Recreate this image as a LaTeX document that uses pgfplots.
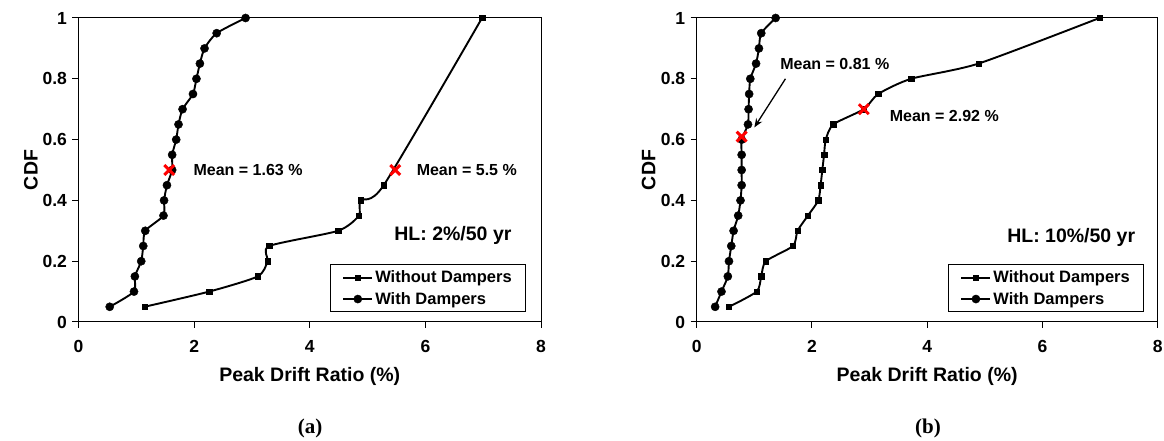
\documentclass[border=0pt]{standalone}
\usepackage{fontspec}
\setmainfont{Liberation Sans}
\newfontfamily\capfont{Liberation Serif}
\usepackage{pgfplots}
\pgfplotsset{compat=1.18}
\usetikzlibrary{arrows.meta}

\pgfplotsset{
  cdfaxis/.style={
    scale only axis, height=304pt,
    xmin=0, xmax=8, ymin=0, ymax=1,
    xtick={0,2,4,6,8}, ytick={0,0.2,0.4,0.6,0.8,1},
    tick align=outside, tick pos=left, major tick length=6pt,
    axis line style={line width=1pt},
    every tick/.style={black, line width=1pt},
    /pgf/number format/assume math mode=true,
    ticklabel style={font=\fontsize{17.5}{20}\selectfont\bfseries},
    xticklabel style={yshift=-9pt},
    yticklabel style={xshift=-2pt},
    label style={font=\fontsize{19.5}{22}\selectfont\bfseries},
    xlabel={Peak Drift Ratio (\%)},
    ylabel={CDF},
    xlabel style={at={(axis description cs:0.5,0)}, anchor=base, yshift=-60pt},
    legend style={draw=black, line width=1pt, anchor=south east,
      font=\fontsize{16.5}{19}\selectfont\bfseries,
      inner xsep=12pt, inner ysep=4pt, row sep=4pt},
    legend cell align=left,
    legend image code/.code={
      \draw[mark repeat=2, mark phase=2] plot coordinates {(0pt,0pt) (14.5pt,0pt) (29pt,0pt)};},
  },
  nodamp/.style={black, line width=1.9pt, mark=square*, mark size=2.7pt,
    mark options={line width=0.4pt}, smooth, tension=0.4},
  damp/.style={black, line width=1.9pt, mark=*, mark size=4.1pt,
    mark options={line width=0.4pt}, smooth, tension=0.4},
  meanx/.style={only marks, red, mark=x, mark size=7pt, line width=3pt, forget plot},
}
\tikzset{
  note/.style={font=\fontsize{16}{18}\selectfont\bfseries},
  hl/.style={font=\fontsize{19.5}{22}\selectfont\bfseries, anchor=east},
}

\begin{document}
\begin{tikzpicture}[x=1pt, y=1pt]
\useasboundingbox (0,0) rectangle (1164,441);

% (a) HL 2%/50 yr
\begin{axis}[cdfaxis, width=462.5pt, at={(78.5pt,119pt)}, anchor=south west,
  ylabel style={at={(axis description cs:-0.103,0.5)}, anchor=center},
  legend style={at={(rel axis cs:0.968,0.032)}}]
\addplot[nodamp] coordinates {
  (1.14,0.05) (2.26,0.10) (3.10,0.15) (3.27,0.20) (3.30,0.25)
  (4.49,0.30) (4.85,0.35) (4.88,0.40) (5.28,0.45) (6.98,1.00)};
\addlegendentry{Without Dampers}
\addplot[damp] coordinates {
  (0.54,0.05) (0.96,0.10) (0.975,0.15) (1.085,0.20) (1.12,0.25)
  (1.155,0.30) (1.47,0.35) (1.48,0.40) (1.53,0.45) (1.62,0.50)
  (1.62,0.55) (1.69,0.60) (1.73,0.65) (1.80,0.70) (1.98,0.75)
  (2.04,0.80) (2.10,0.85) (2.18,0.90) (2.39,0.95) (2.89,1.00)};
\addlegendentry{With Dampers}
\addplot[meanx] coordinates {(1.57,0.50) (5.48,0.50)};
\node[note, anchor=west] at (axis cs:1.93,0.50) {Mean = 1.63 \%};
\node[note, anchor=west] at (axis cs:5.79,0.50) {Mean = 5.5 \%};
\node[hl] at (axis cs:7.55,0.286) {HL: 2\%/50 yr};
\end{axis}

% (b) HL 10%/50 yr
\begin{axis}[cdfaxis, width=461pt, at={(696.7pt,119pt)}, anchor=south west,
  ylabel style={at={(axis description cs:-0.104,0.5)}, anchor=center},
  legend style={at={(rel axis cs:0.971,0.032)}}]
\addplot[nodamp] coordinates {
  (0.56,0.05) (1.04,0.10) (1.12,0.15) (1.20,0.20) (1.67,0.25)
  (1.75,0.30) (1.93,0.35) (2.11,0.40) (2.15,0.45) (2.18,0.50)
  (2.21,0.55) (2.24,0.60) (2.37,0.65) (2.90,0.70) (3.15,0.75)
  (3.72,0.80) (4.89,0.85) (6.99,1.00)};
\addlegendentry{Without Dampers}
\addplot[damp] coordinates {
  (0.32,0.05) (0.43,0.10) (0.54,0.15) (0.56,0.20) (0.60,0.25)
  (0.64,0.30) (0.72,0.35) (0.76,0.40) (0.78,0.45) (0.78,0.50)
  (0.78,0.55) (0.78,0.60) (0.89,0.65) (0.90,0.70) (0.91,0.75)
  (0.93,0.80) (1.03,0.85) (1.08,0.90) (1.12,0.95) (1.37,1.00)};
\addlegendentry{With Dampers}
\addplot[meanx] coordinates {(0.78,0.61) (2.90,0.70)};
\draw[-{Stealth[length=9pt, width=7pt]}, line width=1.3pt] (axis cs:1.54,0.80) -- (axis cs:1.00,0.64);
\node[note, anchor=west] at (axis cs:1.39,0.849) {Mean = 0.81 \%};
\node[note, anchor=west] at (axis cs:3.29,0.676) {Mean = 2.92 \%};
\node[hl] at (axis cs:7.67,0.278) {HL: 10\%/50 yr};
\end{axis}

\node[font=\capfont\fontsize{21}{24}\selectfont\bfseries] at (310,13) {(a)};
\node[font=\capfont\fontsize{21}{24}\selectfont\bfseries] at (928,13) {(b)};
\end{tikzpicture}
\end{document}
